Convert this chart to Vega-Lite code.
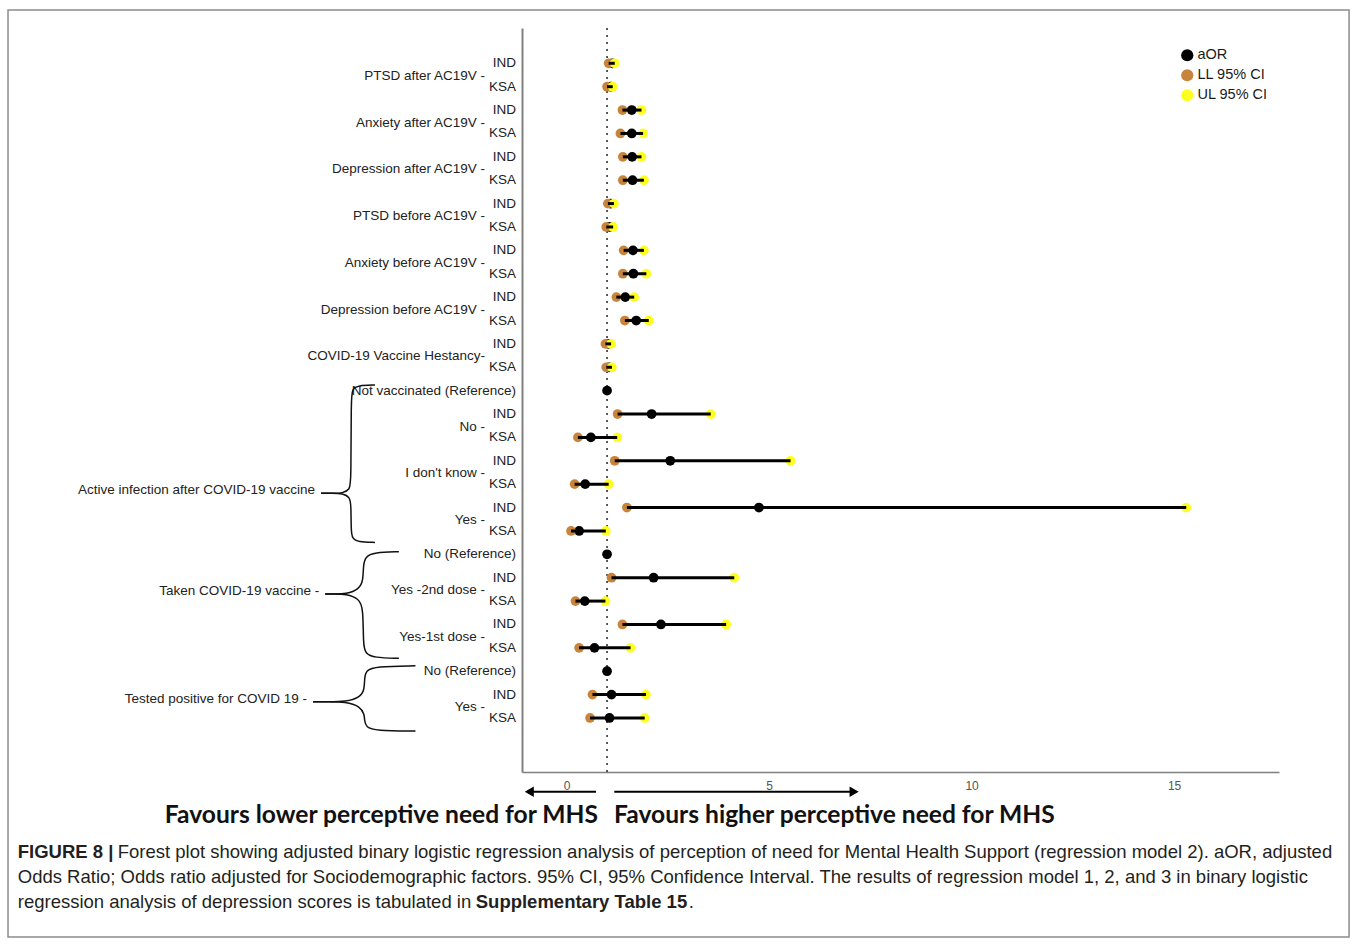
{
  "$schema": "https://vega.github.io/schema/vega-lite/v6.json",
  "width": 757,
  "height": 744,
  "autosize": {"type": "none"},
  "padding": {"left": 522, "top": 28, "right": 78, "bottom": 173},
  "background": "white",
  "config": {"view": {"stroke": null}, "font": "Liberation Sans", "axis": {"grid": false, "ticks": false, "title": null}},
  "datasets": {
    "forest": [
      {"row": 1, "sub": "IND", "cat": "PTSD after AC19V -", "aOR": 1.13, "LL": 1.04, "UL": 1.19},
      {"row": 2, "sub": "KSA", "aOR": 1.09, "LL": 1.0, "UL": 1.14},
      {"row": 3, "sub": "IND", "cat": "Anxiety after AC19V -", "aOR": 1.61, "LL": 1.38, "UL": 1.85},
      {"row": 4, "sub": "KSA", "aOR": 1.61, "LL": 1.33, "UL": 1.89},
      {"row": 5, "sub": "IND", "cat": "Depression after AC19V -", "aOR": 1.62, "LL": 1.39, "UL": 1.85},
      {"row": 6, "sub": "KSA", "aOR": 1.63, "LL": 1.39, "UL": 1.91},
      {"row": 7, "sub": "IND", "cat": "PTSD before AC19V -", "aOR": 1.09, "LL": 1.02, "UL": 1.17},
      {"row": 8, "sub": "KSA", "aOR": 1.06, "LL": 0.98, "UL": 1.15},
      {"row": 9, "sub": "IND", "cat": "Anxiety before AC19V -", "aOR": 1.64, "LL": 1.41, "UL": 1.91},
      {"row": 10, "sub": "KSA", "aOR": 1.65, "LL": 1.39, "UL": 1.97},
      {"row": 11, "sub": "IND", "cat": "Depression before AC19V -", "aOR": 1.45, "LL": 1.23, "UL": 1.67},
      {"row": 12, "sub": "KSA", "aOR": 1.72, "LL": 1.44, "UL": 2.03},
      {"row": 13, "sub": "IND", "cat": "COVID-19 Vaccine Hestancy-", "aOR": 1.03, "LL": 0.96, "UL": 1.1},
      {"row": 14, "sub": "KSA", "aOR": 1.05, "LL": 0.98, "UL": 1.12},
      {"row": 15, "sub": "Not vaccinated (Reference)", "aOR": 1.0},
      {"row": 16, "sub": "IND", "cat": "No -", "aOR": 2.1, "LL": 1.26, "UL": 3.56},
      {"row": 17, "sub": "KSA", "aOR": 0.6, "LL": 0.28, "UL": 1.25},
      {"row": 18, "sub": "IND", "cat": "I don't know -", "aOR": 2.56, "LL": 1.19, "UL": 5.53},
      {"row": 19, "sub": "KSA", "aOR": 0.46, "LL": 0.2, "UL": 1.04},
      {"row": 20, "sub": "IND", "cat": "Yes -", "aOR": 4.75, "LL": 1.49, "UL": 15.3},
      {"row": 21, "sub": "KSA", "aOR": 0.31, "LL": 0.11, "UL": 0.97},
      {"row": 22, "sub": "No (Reference)", "aOR": 1.0},
      {"row": 23, "sub": "IND", "cat": "Yes -2nd dose -", "aOR": 2.15, "LL": 1.11, "UL": 4.14},
      {"row": 24, "sub": "KSA", "aOR": 0.45, "LL": 0.22, "UL": 0.96},
      {"row": 25, "sub": "IND", "cat": "Yes-1st dose -", "aOR": 2.33, "LL": 1.38, "UL": 3.94},
      {"row": 26, "sub": "KSA", "aOR": 0.69, "LL": 0.31, "UL": 1.58},
      {"row": 27, "sub": "No (Reference)", "aOR": 1.0},
      {"row": 28, "sub": "IND", "cat": "Yes -", "aOR": 1.11, "LL": 0.64, "UL": 1.96},
      {"row": 29, "sub": "KSA", "aOR": 1.06, "LL": 0.58, "UL": 1.93}
    ],
    "braces": [
      {"part": "1u", "seq": 0, "bx": -6.06, "by": 19.39, "label": "Active infection after COVID-19 vaccine"},
      {"part": "1u", "seq": 1, "bx": -5.8, "by": 19.39},
      {"part": "1u", "seq": 2, "bx": -5.52, "by": 19.39},
      {"part": "1u", "seq": 3, "bx": -5.35, "by": 19.22},
      {"part": "1u", "seq": 4, "bx": -5.32, "by": 18.9},
      {"part": "1u", "seq": 5, "bx": -5.32, "by": 15.3},
      {"part": "1u", "seq": 6, "bx": -5.29, "by": 14.93},
      {"part": "1u", "seq": 7, "bx": -5.15, "by": 14.78},
      {"part": "1u", "seq": 8, "bx": -4.73, "by": 14.76},
      {"part": "1l", "seq": 0, "bx": -6.06, "by": 19.39},
      {"part": "1l", "seq": 1, "bx": -5.8, "by": 19.39},
      {"part": "1l", "seq": 2, "bx": -5.52, "by": 19.39},
      {"part": "1l", "seq": 3, "bx": -5.35, "by": 19.56},
      {"part": "1l", "seq": 4, "bx": -5.32, "by": 19.9},
      {"part": "1l", "seq": 5, "bx": -5.32, "by": 21.0},
      {"part": "1l", "seq": 6, "bx": -5.29, "by": 21.33},
      {"part": "1l", "seq": 7, "bx": -5.15, "by": 21.47},
      {"part": "1l", "seq": 8, "bx": -4.73, "by": 21.49},
      {"part": "2u", "seq": 0, "bx": -5.96, "by": 23.7, "label": "Taken COVID-19 vaccine  -"},
      {"part": "2u", "seq": 1, "bx": -5.72, "by": 23.7},
      {"part": "2u", "seq": 2, "bx": -5.45, "by": 23.7},
      {"part": "2u", "seq": 3, "bx": -5.12, "by": 23.5},
      {"part": "2u", "seq": 4, "bx": -5.02, "by": 23.1},
      {"part": "2u", "seq": 5, "bx": -5.02, "by": 22.5},
      {"part": "2u", "seq": 6, "bx": -4.97, "by": 22.1},
      {"part": "2u", "seq": 7, "bx": -4.75, "by": 21.92},
      {"part": "2u", "seq": 8, "bx": -4.14, "by": 21.89},
      {"part": "2l", "seq": 0, "bx": -5.96, "by": 23.7},
      {"part": "2l", "seq": 1, "bx": -5.72, "by": 23.7},
      {"part": "2l", "seq": 2, "bx": -5.45, "by": 23.7},
      {"part": "2l", "seq": 3, "bx": -5.12, "by": 23.9},
      {"part": "2l", "seq": 4, "bx": -5.02, "by": 24.3},
      {"part": "2l", "seq": 5, "bx": -5.02, "by": 25.85},
      {"part": "2l", "seq": 6, "bx": -4.97, "by": 26.25},
      {"part": "2l", "seq": 7, "bx": -4.75, "by": 26.42},
      {"part": "2l", "seq": 8, "bx": -4.14, "by": 26.45},
      {"part": "3u", "seq": 0, "bx": -6.26, "by": 28.31, "label": "Tested positive for COVID 19 -"},
      {"part": "3u", "seq": 1, "bx": -5.9, "by": 28.31},
      {"part": "3u", "seq": 2, "bx": -5.45, "by": 28.31},
      {"part": "3u", "seq": 3, "bx": -5.1, "by": 28.12},
      {"part": "3u", "seq": 4, "bx": -4.99, "by": 27.8},
      {"part": "3u", "seq": 5, "bx": -4.99, "by": 27.3},
      {"part": "3u", "seq": 6, "bx": -4.95, "by": 26.97},
      {"part": "3u", "seq": 7, "bx": -4.72, "by": 26.79},
      {"part": "3u", "seq": 8, "bx": -3.73, "by": 26.77},
      {"part": "3l", "seq": 0, "bx": -6.26, "by": 28.31},
      {"part": "3l", "seq": 1, "bx": -5.9, "by": 28.31},
      {"part": "3l", "seq": 2, "bx": -5.45, "by": 28.31},
      {"part": "3l", "seq": 3, "bx": -5.1, "by": 28.5},
      {"part": "3l", "seq": 4, "bx": -4.99, "by": 28.85},
      {"part": "3l", "seq": 5, "bx": -4.99, "by": 29.1},
      {"part": "3l", "seq": 6, "bx": -4.95, "by": 29.4},
      {"part": "3l", "seq": 7, "bx": -4.72, "by": 29.54},
      {"part": "3l", "seq": 8, "bx": -3.73, "by": 29.56}
    ]
  },
  "layer": [
    {
      "data": {"values": [{}]},
      "mark": {"type": "rect", "fillOpacity": 0, "stroke": "#8c8c8c", "strokeWidth": 1.5},
      "encoding": {
        "x": {
          "datum": -13.79, "type": "quantitative", "title": null,
          "scale": {"domain": [-1.1, 17.59], "nice": false, "zero": false},
          "axis": {"values": [0, 5, 10, 15], "title": null, "grid": false, "ticks": false, "domainColor": "#808080", "domainWidth": 1.5, "labelFontSize": 12, "labelColor": "#555555", "labelPadding": 8, "labelFont": "Liberation Sans"}
        },
        "x2": {"datum": 19.32},
        "y": {
          "datum": -1.28, "type": "quantitative", "title": null,
          "scale": {"domain": [-0.51, 31.31], "nice": false, "zero": false, "reverse": true},
          "axis": {"title": null, "grid": false, "ticks": false, "labels": false, "domainColor": "#808080", "domainWidth": 2}
        },
        "y2": {"datum": 38.37}
      }
    },
    {
      "data": {"values": [{}]},
      "mark": {"type": "rule", "strokeDash": [2, 5], "color": "#333333", "strokeWidth": 1.6},
      "encoding": {"x": {"datum": 1, "type": "quantitative", "title": null}}
    },
    {
      "data": {"name": "forest"},
      "transform": [
        {"fold": ["aOR", "LL", "UL"], "as": ["measure", "value"]},
        {"filter": "isValid(datum.value)"}
      ],
      "mark": {"type": "point", "filled": true, "size": 95, "opacity": 1, "strokeWidth": 0},
      "encoding": {
        "x": {"field": "value", "type": "quantitative", "title": null},
        "y": {"field": "row", "type": "quantitative", "title": null},
        "color": {
          "field": "measure", "type": "nominal",
          "scale": {"domain": ["aOR", "LL", "UL"], "range": ["#000000", "#c8843c", "#ffff1f"]},
          "legend": {"title": null, "orient": "none", "legendX": 658, "legendY": 20, "symbolType": "circle", "symbolSize": 150, "symbolStrokeWidth": 0, "symbolOpacity": 1, "labelFontSize": 14.5, "labelColor": "#1a1a1a", "labelOffset": 3, "rowPadding": 5, "padding": 0,
            "labelExpr": "datum.label == 'LL' ? 'LL 95% CI' : datum.label == 'UL' ? 'UL 95% CI' : datum.label"}
        }
      }
    },
    {
      "data": {"name": "forest"},
      "transform": [{"filter": "isValid(datum.LL)"}],
      "mark": {"type": "rule", "color": "#000000", "strokeWidth": 3},
      "encoding": {
        "x": {"field": "LL", "type": "quantitative", "title": null},
        "x2": {"field": "UL"},
        "y": {"field": "row", "type": "quantitative", "title": null}
      }
    },
    {
      "data": {"name": "forest"},
      "mark": {"type": "text", "align": "right", "baseline": "middle", "dx": -6, "fontSize": 13.5, "color": "#222222"},
      "encoding": {
        "x": {"datum": -1.1, "type": "quantitative", "title": null},
        "y": {"field": "row", "type": "quantitative", "title": null},
        "text": {"field": "sub"}
      }
    },
    {
      "data": {"name": "forest"},
      "transform": [{"filter": "isValid(datum.cat)"}],
      "mark": {"type": "text", "align": "right", "baseline": "middle", "dx": -37, "dy": 12.5, "fontSize": 13.5, "color": "#222222"},
      "encoding": {
        "x": {"datum": -1.1, "type": "quantitative", "title": null},
        "y": {"field": "row", "type": "quantitative", "title": null},
        "text": {"field": "cat"}
      }
    },
    {
      "data": {"name": "braces"},
      "mark": {"type": "line", "interpolate": "basis", "color": "#111111", "strokeWidth": 1.5},
      "encoding": {
        "x": {"field": "bx", "type": "quantitative", "title": null},
        "y": {"field": "by", "type": "quantitative", "title": null},
        "detail": {"field": "part"},
        "order": {"field": "seq"}
      }
    },
    {
      "data": {"name": "braces"},
      "transform": [{"filter": "isValid(datum.label)"}],
      "mark": {"type": "text", "align": "right", "baseline": "middle", "dx": -6, "dy": -3, "fontSize": 13.5, "color": "#222222"},
      "encoding": {
        "x": {"field": "bx", "type": "quantitative", "title": null},
        "y": {"field": "by", "type": "quantitative", "title": null},
        "text": {"field": "label"}
      }
    },
    {
      "data": {"values": [{}]},
      "mark": {"type": "rule", "color": "#000000", "strokeWidth": 2},
      "encoding": {
        "x": {"datum": -0.95, "type": "quantitative", "title": null},
        "x2": {"datum": 0.727},
        "y": {"datum": 32.15, "type": "quantitative", "title": null}
      }
    },
    {
      "data": {"values": [{}]},
      "mark": {"type": "rule", "color": "#000000", "strokeWidth": 2},
      "encoding": {
        "x": {"datum": 1.179, "type": "quantitative", "title": null},
        "x2": {"datum": 7.1},
        "y": {"datum": 32.15, "type": "quantitative", "title": null}
      }
    },
    {
      "data": {"values": [{}]},
      "mark": {"type": "point", "shape": "triangle-left", "filled": true, "size": 110, "color": "#000000", "opacity": 1},
      "encoding": {
        "x": {"datum": -0.92, "type": "quantitative", "title": null},
        "y": {"datum": 32.15, "type": "quantitative", "title": null}
      }
    },
    {
      "data": {"values": [{}]},
      "mark": {"type": "point", "shape": "triangle-right", "filled": true, "size": 110, "color": "#000000", "opacity": 1},
      "encoding": {
        "x": {"datum": 7.1, "type": "quantitative", "title": null},
        "y": {"datum": 32.15, "type": "quantitative", "title": null}
      }
    },
    {
      "data": {"values": [{}]},
      "mark": {"type": "text", "text": "Favours lower perceptive need for MHS", "align": "right", "baseline": "middle", "dx": -9, "font": "Lato", "fontWeight": "bold", "fontSize": 24.6, "color": "#111111"},
      "encoding": {
        "x": {"datum": 1, "type": "quantitative", "title": null},
        "y": {"datum": 33.2, "type": "quantitative", "title": null}
      }
    },
    {
      "data": {"values": [{}]},
      "mark": {"type": "text", "text": "Favours higher perceptive need for MHS", "align": "left", "baseline": "middle", "dx": 7, "font": "Lato", "fontWeight": "bold", "fontSize": 24.6, "color": "#111111"},
      "encoding": {
        "x": {"datum": 1, "type": "quantitative", "title": null},
        "y": {"datum": 33.2, "type": "quantitative", "title": null}
      }
    },
    {
      "data": {"values": [{}]},
      "mark": {"type": "text", "text": "FIGURE 8 |", "align": "left", "baseline": "middle", "font": "Liberation Sans", "fontWeight": "bold", "fontSize": 18.5, "color": "#231f20"},
      "encoding": {
        "x": {"datum": -13.55, "type": "quantitative", "title": null},
        "y": {"datum": 34.73, "type": "quantitative", "title": null}
      }
    },
    {
      "data": {"values": [{}]},
      "mark": {"type": "text", "text": "Forest plot showing adjusted binary logistic regression analysis of perception of need for Mental Health Support (regression model 2). aOR, adjusted", "align": "left", "baseline": "middle", "dx": 100, "font": "Liberation Sans", "fontSize": 18.5, "color": "#231f20"},
      "encoding": {
        "x": {"datum": -13.55, "type": "quantitative", "title": null},
        "y": {"datum": 34.73, "type": "quantitative", "title": null}
      }
    },
    {
      "data": {"values": [{}]},
      "mark": {"type": "text", "text": "Odds Ratio; Odds ratio adjusted for Sociodemographic factors. 95% CI, 95% Confidence Interval. The results of regression model 1, 2, and 3 in binary logistic", "align": "left", "baseline": "middle", "font": "Liberation Sans", "fontSize": 18.5, "color": "#231f20"},
      "encoding": {
        "x": {"datum": -13.55, "type": "quantitative", "title": null},
        "y": {"datum": 35.8, "type": "quantitative", "title": null}
      }
    },
    {
      "data": {"values": [{}]},
      "mark": {"type": "text", "text": "regression analysis of depression scores is tabulated in", "align": "left", "baseline": "middle", "font": "Liberation Sans", "fontSize": 18.5, "color": "#231f20"},
      "encoding": {
        "x": {"datum": -13.55, "type": "quantitative", "title": null},
        "y": {"datum": 36.87, "type": "quantitative", "title": null}
      }
    },
    {
      "data": {"values": [{}]},
      "mark": {"type": "text", "text": "Supplementary Table 15", "align": "left", "baseline": "middle", "dx": 458, "font": "Liberation Sans", "fontWeight": "bold", "fontSize": 18.5, "color": "#231f20"},
      "encoding": {
        "x": {"datum": -13.55, "type": "quantitative", "title": null},
        "y": {"datum": 36.87, "type": "quantitative", "title": null}
      }
    },
    {
      "data": {"values": [{}]},
      "mark": {"type": "text", "text": ".", "align": "left", "baseline": "middle", "dx": 671, "font": "Liberation Sans", "fontSize": 18.5, "color": "#231f20"},
      "encoding": {
        "x": {"datum": -13.55, "type": "quantitative", "title": null},
        "y": {"datum": 36.87, "type": "quantitative", "title": null}
      }
    }
  ]
}
